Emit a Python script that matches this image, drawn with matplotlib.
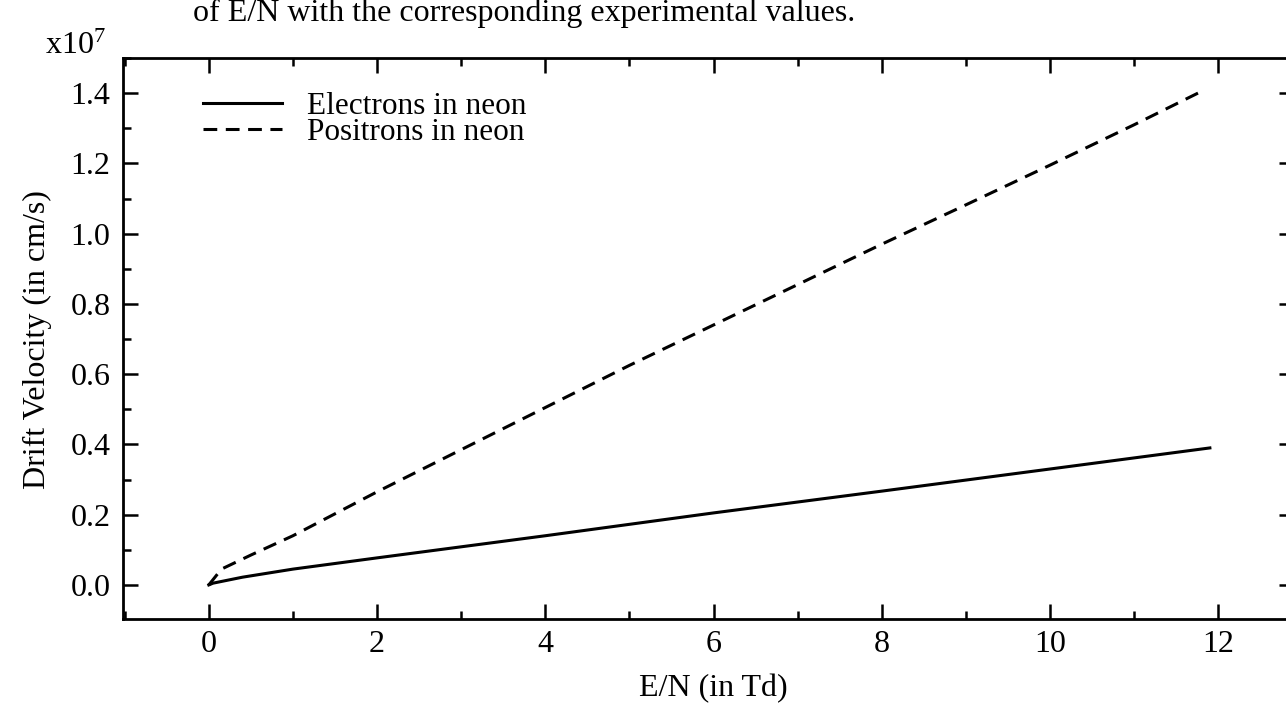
import matplotlib
matplotlib.use("Agg")
import matplotlib.pyplot as plt
from matplotlib.ticker import MultipleLocator, FormatStrFormatter

plt.rcParams['font.family'] = ['Liberation Serif', 'DejaVu Serif']
plt.rcParams['mathtext.fontset'] = 'custom'
plt.rcParams['mathtext.rm'] = 'Liberation Serif'
plt.rcParams['mathtext.it'] = 'Liberation Serif:italic'

# Data (x in Td, y in units of 1e7 cm/s)
electron_x = [0.0, 0.05, 0.4, 1.0, 2.0, 4.0, 6.0, 8.0, 10.0, 11.9]
electron_y = [0.0, 0.005, 0.022, 0.045, 0.077, 0.140, 0.205, 0.267, 0.330, 0.390]
positron_x = [0.0, 0.15, 0.5, 1.0, 2.0, 3.0, 4.0, 5.0, 6.0, 7.0, 8.0, 9.0, 10.0, 11.0, 11.8]
positron_y = [0.0, 0.045, 0.085, 0.140, 0.265, 0.385, 0.505, 0.625, 0.740, 0.855, 0.970, 1.082, 1.195, 1.310, 1.405]
series_labels = ["Electrons in neon", "Positrons in neon"]
x_ticks = [0, 2, 4, 6, 8, 10, 12]
y_ticks = [0.0, 0.2, 0.4, 0.6, 0.8, 1.0, 1.2, 1.4]

FS = 23
W, H = 1286, 705
fig = plt.figure(figsize=(W / 100, H / 100), dpi=100)
left, right, top, bottom = 123, 1294, 58, 619
ax = fig.add_axes([left / W, 1 - bottom / H, (right - left) / W, (bottom - top) / H])

ax.plot(electron_x, electron_y, color='black', lw=2.2, label=series_labels[0])
ax.plot(positron_x, positron_y, color='black', lw=2.2, dashes=(4.5, 2.8), label=series_labels[1])

ax.set_xlim(-1.02, 12.9)
ax.set_ylim(-0.097, 1.5)
ax.set_xticks(x_ticks)
ax.set_yticks(y_ticks)
ax.xaxis.set_minor_locator(MultipleLocator(1))
ax.yaxis.set_minor_locator(MultipleLocator(0.1))
ax.yaxis.set_major_formatter(FormatStrFormatter('%.1f'))

ax.tick_params(which='both', direction='in', top=True, right=True, labelsize=FS, width=1.8)
ax.tick_params(which='major', length=11)
ax.tick_params(which='minor', length=5.5)
ax.tick_params(axis='y', pad=9)
ax.tick_params(axis='x', pad=8)
for s in ax.spines.values():
    s.set_linewidth(2.0)

leg = ax.legend(loc='upper left', bbox_to_anchor=(0.068, 0.94), frameon=False,
                fontsize=22.5, handlelength=2.55, handletextpad=0.8,
                labelspacing=-0.08, borderaxespad=0, borderpad=0)

fig.text(713 / W, 1 - 689 / H, "E/N (in Td)", ha='center', va='center', fontsize=FS)
fig.text(37 / W, 1 - 340 / H, "Drift Velocity (in cm/s)", ha='center', va='center',
         rotation=90, fontsize=FS)
fig.text(45 / W, 1 - 46 / H, r"x10$^{7}$", ha='left', va='center', fontsize=FS)
fig.text(193 / W, 1 - 13 / H, "of E/N with the corresponding experimental values.",
         ha='left', va='center', fontsize=FS)

fig.savefig("out.png", dpi=100)
